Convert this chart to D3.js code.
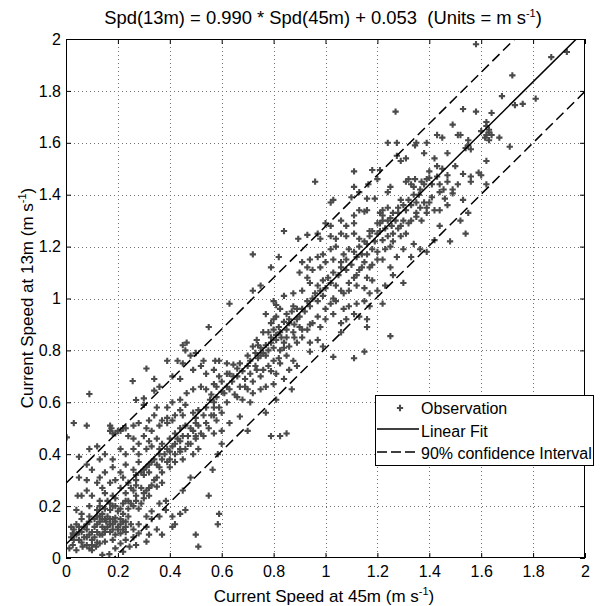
<!DOCTYPE html>
<html><head><meta charset="utf-8">
<script src="https://cdn.jsdelivr.net/npm/d3@7"></script>
<style>body{margin:0;background:#fff}svg{display:block}text{font-family:"Liberation Sans",Arial,sans-serif;white-space:pre}</style>
</head><body>
<script>
// ---- data (values in m/s) ----
const xTicks = [0,0.2,0.4,0.6,0.8,1,1.2,1.4,1.6,1.8,2];
const yTicks = [0,0.2,0.4,0.6,0.8,1,1.2,1.4,1.6,1.8,2];
const fitSlope = 0.990, fitIntercept = 0.053, ciHalfWidth = 0.235;

const obsLow = [[0.30,0.59],[0.35,0.58],[0.39,0.58],[0.41,0.60],[0.44,0.57],[0.46,0.59],[0.49,0.56],[0.51,0.57],[0.54,0.58],[0.57,0.60],[0.59,0.58],[0.60,0.56],[0.57,0.55],[0.53,0.55],[0.50,0.54],[0.45,0.55],[0.42,0.55],[0.39,0.54],[0.37,0.53],[0.34,0.55],[0.32,0.53],
[0.03,0.52],[0.08,0.51],[0.17,0.49],[0.18,0.48],[0.19,0.48],[0.20,0.49],[0.21,0.49],[0.22,0.50],[0.23,0.50],[0.17,0.51],[0.175,0.50],
[0.26,0.51],[0.28,0.52],[0.31,0.50],[0.33,0.49],[0.36,0.51],[0.39,0.52],[0.41,0.53],[0.44,0.50],[0.46,0.51],[0.49,0.49],[0.51,0.51],[0.54,0.52],[0.58,0.53],[0.60,0.49],[0.57,0.48],[0.53,0.47],[0.50,0.46],[0.48,0.44],[0.45,0.47],[0.42,0.48],[0.40,0.46],[0.37,0.44],[0.35,0.46],[0.32,0.45],[0.30,0.47],[0.28,0.44],[0.26,0.46],[0.24,0.47],
[0.12,0.43],[0.09,0.42],[0.05,0.39],[0.08,0.36],[0.13,0.38],[0.15,0.40],[0.18,0.38],[0.21,0.42],[0.23,0.40],[0.26,0.42],[0.28,0.40],[0.31,0.42],[0.33,0.43],[0.36,0.40],[0.39,0.42],[0.41,0.43],[0.44,0.41],[0.46,0.42],[0.49,0.40],[0.51,0.42],[0.45,0.38],[0.42,0.37],[0.39,0.37],[0.36,0.35],[0.33,0.37],[0.31,0.35],[0.28,0.37],[0.26,0.34],[0.23,0.36],[0.21,0.33],[0.18,0.35],[0.15,0.33],[0.13,0.31],[0.10,0.34],[0.08,0.30],[0.05,0.31],[0.08,0.26],[0.12,0.29],[0.14,0.27],[0.17,0.29],[0.19,0.30],[0.22,0.31],[0.24,0.29],[0.27,0.30],[0.30,0.32],[0.32,0.33],[0.35,0.31],[0.37,0.33],[0.40,0.35],
[0.26,0.26],[0.23,0.25],[0.21,0.27],[0.18,0.24],[0.15,0.25],[0.13,0.22],[0.10,0.24],[0.045,0.24],[0.06,0.24],[0.04,0.185],[0.06,0.17],[0.09,0.20],[0.12,0.185],[0.14,0.17],[0.17,0.185],[0.19,0.20],[0.22,0.21],[0.24,0.22],[0.27,0.24],[0.30,0.25],[0.32,0.27],[0.35,0.275],[0.37,0.29],[0.45,0.26],[0.48,0.31],[0.565,0.34],[0.55,0.24],[0.60,0.44],[0.585,0.40],
[0.13,0.16],[0.15,0.15],[0.155,0.14],[0.17,0.15],[0.18,0.13],[0.19,0.155],[0.21,0.13],[0.22,0.14],[0.23,0.12],[0.14,0.12],[0.12,0.13],[0.09,0.14],[0.06,0.15],[0.04,0.13],[0.02,0.12],[0.026,0.095],[0.05,0.10],[0.08,0.11],[0.10,0.10],[0.13,0.09],[0.15,0.10],[0.18,0.11],[0.21,0.095],[0.23,0.10],[0.26,0.11],[0.28,0.13],[0.31,0.16],[0.33,0.18],[0.36,0.21],[0.385,0.22],[0.41,0.16],[0.44,0.17],[0.46,0.185],[0.385,0.185],[0.36,0.16],[0.33,0.15],[0.31,0.12],[0.28,0.095],[0.26,0.08],[0.23,0.07],[0.21,0.056],[0.18,0.07],[0.15,0.063],[0.13,0.056],[0.10,0.07],[0.08,0.08],[0.05,0.07],[0.026,0.05],[0.013,0.037],[0.04,0.03],[0.064,0.044],[0.09,0.037],[0.116,0.044],[0.14,0.012],[0.167,0.015],[0.19,0.037],[0.22,0.024],[0.245,0.044],[0.27,0.05],[0.31,0.063],[0.37,0.09],[0.41,0.12],[0.50,0.09],[0.51,0.044],[0.585,0.13],[0.59,0.17],[0.42,0.13],[0.35,0.11],[0.32,0.09]];

const obsDense = [[0.11,0.15],[0.12,0.16],[0.13,0.14],[0.14,0.15],[0.16,0.16],[0.17,0.13],[0.18,0.15],[0.19,0.14],[0.20,0.12],[0.21,0.15],[0.22,0.11],[0.23,0.14],[0.24,0.16],[0.25,0.13],[0.15,0.11],[0.16,0.12],[0.17,0.10],[0.19,0.09],[0.20,0.11],[0.12,0.10],[0.11,0.12],[0.14,0.09],[0.13,0.20],[0.15,0.19],[0.16,0.22],[0.18,0.20],[0.20,0.18],[0.21,0.19],[0.22,0.17],[0.24,0.19],[0.25,0.21],[0.26,0.20],[0.27,0.22],[0.28,0.19],[0.29,0.21],[0.30,0.23],[0.31,0.26],[0.32,0.24],[0.33,0.28],[0.34,0.30],[0.29,0.27],[0.27,0.28],[0.25,0.27],[0.23,0.22],[0.19,0.23],[0.17,0.21],[0.09,0.16],[0.08,0.13],[0.07,0.12],[0.06,0.10],[0.05,0.12],[0.04,0.09],[0.03,0.07],[0.06,0.06],[0.08,0.05],[0.10,0.05],[0.11,0.08],[0.09,0.09],[0.07,0.08],[0.03,0.11],[0.02,0.08],[0.10,0.03],[0.12,0.06],[0.35,0.36],[0.37,0.38],[0.38,0.40],[0.40,0.41],[0.42,0.44],[0.43,0.46],[0.44,0.45],[0.47,0.47],[0.48,0.50],[0.50,0.52],[0.36,0.42],[0.34,0.38],[0.32,0.36],[0.30,0.34],[0.29,0.33],[0.27,0.32],[0.40,0.38],[0.42,0.40],[0.44,0.42],[0.47,0.44],[0.50,0.47],[0.52,0.48],[0.55,0.50],[0.56,0.55]];

const obsMid = [[0.80,0.99],[0.81,0.975],[0.84,1.01],[0.876,1.02],[0.825,0.96],[0.85,0.94],[0.876,0.97],[0.89,0.92],[0.86,0.905],[0.84,0.91],[0.81,0.93],[0.77,0.94],[0.79,0.905],[0.80,0.88],[0.825,0.87],[0.85,0.85],[0.876,0.87],[0.89,0.83],[0.86,0.815],[0.84,0.83],[0.81,0.84],[0.79,0.85],[0.76,0.87],[0.735,0.84],[0.72,0.815],[0.75,0.81],[0.77,0.82],[0.80,0.81],[0.825,0.80],[0.85,0.78],[0.876,0.76],[0.89,0.74],[0.86,0.725],[0.825,0.75],[0.80,0.76],[0.77,0.78],[0.75,0.78],[0.73,0.79],[0.71,0.76],[0.70,0.74],[0.67,0.75],[0.645,0.745],[0.62,0.75],[0.59,0.76],[0.575,0.76],[0.735,0.725],[0.76,0.725],[0.79,0.72],[0.81,0.71],[0.84,0.69],[0.87,0.65],[0.80,0.67],[0.77,0.66],[0.75,0.65],[0.72,0.635],[0.70,0.65],[0.67,0.66],[0.645,0.70],[0.62,0.71],[0.59,0.70],[0.57,0.67],[0.54,0.65],[0.52,0.66],[0.49,0.65],[0.465,0.635],[0.44,0.61],[0.63,0.65],[0.66,0.62],[0.68,0.61],[0.71,0.60],[0.63,0.52],[0.67,0.545],[0.70,0.49],[0.77,0.56],[0.81,0.61],[0.825,0.47],[0.85,0.48],[0.79,0.47],[0.63,0.98],[0.55,0.89],[0.465,0.83],[0.45,0.82],[0.46,0.80],[0.39,0.76],[0.43,0.76],[0.31,0.73],[0.34,0.69],[0.36,0.66],[0.34,0.645],[0.30,0.615],[0.41,0.70],[0.44,0.69],[0.49,0.725],[0.52,0.74],[0.54,0.71],[0.57,0.725],[0.45,0.75],[0.48,0.78],[0.50,0.79],[0.53,0.76],[0.58,0.62],[0.61,0.635],[0.555,0.61],[0.257,0.682],[0.09,0.632],[0.27,0.609],[0.003,0.465]];

const obsUpper = [[1.02,1.37],[1.13,1.34],[1.15,1.335],[1.16,1.34],[1.11,1.32],[1.11,1.29],[1.08,1.28],[1.06,1.30],[1.02,1.28],[1.00,1.29],[1.20,1.29],[1.18,1.26],[1.20,1.25],[1.17,1.24],[1.16,1.21],[1.13,1.23],[1.11,1.25],[1.08,1.24],[1.06,1.25],[1.04,1.23],[1.02,1.24],[0.98,1.23],[0.97,1.25],[0.93,1.245],[0.895,1.23],[0.84,1.26],[0.72,1.17],[1.16,1.17],[1.18,1.19],[1.20,1.15],[1.17,1.12],[1.15,1.14],[1.12,1.16],[1.09,1.19],[1.07,1.17],[1.04,1.20],[1.02,1.19],[0.99,1.17],[0.97,1.16],[0.94,1.15],[0.93,1.12],[0.91,1.14],[0.90,1.10],[0.93,1.08],[0.95,1.11],[0.98,1.12],[1.00,1.14],[1.03,1.15],[1.06,1.12],[1.08,1.11],[1.11,1.08],[1.13,1.11],[1.16,1.08],[1.18,1.07],[1.20,1.03],[1.17,1.02],[1.15,1.04],[1.12,1.05],[1.09,1.03],[1.07,1.02],[1.04,1.05],[1.02,1.06],[0.99,1.07],[0.97,1.05],[0.94,1.06],[0.91,1.03],[0.72,1.03],[0.75,1.05],[0.79,1.12],[0.82,1.16],[0.91,0.96],[0.94,0.97],[0.97,0.99],[0.99,1.01],[1.02,0.98],[1.04,0.99],[1.07,0.96],[1.09,0.97],[1.12,0.98],[1.15,0.99],[1.17,0.97],[1.16,0.92],[1.16,0.89],[1.13,0.93],[1.11,0.94],[1.08,0.92],[1.06,0.905],[1.03,0.94],[1.00,0.92],[0.98,0.89],[0.95,0.905],[0.93,0.88],[0.90,0.89],[0.91,0.85],[0.94,0.83],[0.97,0.84],[0.99,0.815],[0.94,0.795],[1.03,0.775],[1.11,0.77],[1.15,0.795],[1.06,0.87]];

const obsTop = [[1.27,1.72],[1.49,1.67],[1.43,1.63],[1.51,1.63],[1.45,1.62],[1.24,1.60],[1.275,1.60],[1.35,1.60],[1.345,1.59],[1.39,1.60],[1.38,1.56],[1.275,1.55],[1.31,1.54],[1.29,1.53],[1.42,1.54],[1.47,1.56],[1.50,1.51],[1.43,1.51],[1.40,1.49],[1.47,1.475],[1.47,1.45],[1.51,1.44],[1.49,1.42],[1.455,1.42],[1.44,1.44],[1.39,1.46],[1.38,1.44],[1.40,1.465],[1.365,1.42],[1.34,1.43],[1.33,1.44],[1.31,1.45],[1.32,1.46],[1.345,1.46],[1.21,1.495],[1.18,1.495],[1.11,1.49],[0.96,1.45],[1.20,1.46],[1.165,1.44],[1.24,1.41],[1.25,1.43],[1.19,1.385],[1.16,1.385],[1.13,1.41],[1.11,1.43],[1.10,1.39],[1.03,1.38],[1.21,1.33],[1.22,1.32],[1.22,1.34],[1.24,1.35],[1.26,1.33],[1.28,1.35],[1.29,1.38],[1.31,1.34],[1.33,1.36],[1.35,1.37],[1.365,1.35],[1.39,1.35],[1.40,1.37],[1.42,1.34],[1.44,1.34],[1.47,1.36],[1.46,1.385],[1.49,1.405],[1.30,1.30],[1.33,1.30],[1.35,1.315],[1.37,1.30],[1.39,1.33],[1.29,1.28],[1.255,1.28],[1.24,1.30],[1.22,1.30],[1.21,1.29],[1.24,1.24],[1.22,1.225],[1.26,1.25],[1.29,1.24],[1.31,1.25],[1.34,1.21],[1.48,1.22],[1.44,1.28],[1.42,1.225],[1.25,1.20],[1.22,1.15],[1.25,1.12],[1.275,1.16],[1.30,1.19],[1.33,1.16],[1.365,1.19],[1.39,1.18],
[1.58,1.98],[1.72,1.86],[1.68,1.78],[1.73,1.745],[1.76,1.75],[1.81,1.77],[1.53,1.73],[1.58,1.72],[1.64,1.715],[1.62,1.68],[1.62,1.665],[1.63,1.65],[1.63,1.64],[1.62,1.63],[1.615,1.62],[1.64,1.63],[1.63,1.61],[1.67,1.62],[1.60,1.645],[1.52,1.63],[1.55,1.61],[1.55,1.59],[1.54,1.58],[1.56,1.575],[1.71,1.585],[1.62,1.53],[1.53,1.48],[1.56,1.47],[1.56,1.45],[1.59,1.485],[1.60,1.475],[1.62,1.44],
[1.87,1.93],[1.93,1.95],[1.53,1.38],[1.55,1.33],[1.52,1.30],[1.54,1.25],[1.23,1.05],[1.26,1.09],[1.22,0.98],[1.30,1.06],[1.25,0.855]];

const obsBand = [[0.56,0.63],[0.58,0.66],[0.60,0.68],[0.62,0.66],[0.64,0.68],[0.66,0.70],[0.68,0.72],[0.69,0.69],[0.71,0.71],[0.73,0.74],[0.74,0.77],[0.76,0.79],[0.78,0.80],[0.79,0.83],[0.81,0.86],[0.82,0.89],[0.83,0.85],[0.85,0.88],[0.86,0.92],[0.87,0.95],[0.88,0.90],[0.89,0.96],[0.90,0.93],[0.92,0.95],[0.93,0.99],[0.95,1.00],[0.96,1.02],[0.98,1.03],[1.00,1.04],[1.01,1.08],[1.03,1.10],[1.05,1.09],[1.06,1.14],[1.08,1.15],[1.10,1.13],[1.11,1.18],[1.13,1.20],[1.14,1.17],[1.15,1.22],[1.17,1.26],[1.19,1.22],[1.21,1.26],[1.23,1.27],[1.25,1.31],[1.27,1.30],[1.28,1.33],[1.30,1.36],[1.32,1.38],[1.34,1.40],[1.36,1.40],[1.37,1.45],[1.41,1.44],[1.43,1.47],[1.45,1.50],[0.78,0.87],[0.80,0.92],[0.74,0.82],[0.70,0.78],[0.66,0.73],[0.63,0.71],[0.60,0.64],[0.57,0.58],[0.62,0.60],[0.65,0.63],[0.69,0.66],[0.72,0.68],[0.75,0.70],[0.78,0.74],[0.82,0.77],[0.84,0.81],[0.88,0.85],[0.91,0.88],[0.94,0.90],[0.97,0.93],[1.00,0.96],[1.03,1.00],[1.06,1.03],[1.09,1.06],[1.12,1.09],[1.14,1.12],[1.18,1.13],[1.20,1.18],[1.23,1.19],[1.26,1.22],[1.28,1.27],[1.32,1.29],[1.35,1.33],[1.38,1.37],[1.41,1.39],[1.44,1.41]];

const observations = [].concat(obsLow, obsDense, obsMid, obsUpper, obsTop, obsBand);

// ---- layout ----
const W = 608, H = 606;
const L = 66, T = 39, R = 585, B = 558;
const x = d3.scaleLinear().domain([0,2]).range([L,R]);
const y = d3.scaleLinear().domain([0,2]).range([B,T]);
const fmt = d => String(+d.toFixed(1));

const svg = d3.select("body").append("svg").attr("width",W).attr("height",H);
svg.append("rect").attr("width",W).attr("height",H).attr("fill","#fff");
svg.append("defs").append("clipPath").attr("id","clip")
  .append("rect").attr("x",L).attr("y",T).attr("width",R-L).attr("height",B-T);

// grid
const grid = svg.append("g").attr("stroke","#000").attr("stroke-width",1).attr("stroke-dasharray","1,3").attr("opacity",0.55);
grid.selectAll(".gx").data(xTicks.slice(1,-1)).join("line")
  .attr("x1",d=>Math.round(x(d))+0.5).attr("x2",d=>Math.round(x(d))+0.5).attr("y1",T).attr("y2",B);
grid.selectAll(".gy").data(yTicks.slice(1,-1)).join("line")
  .attr("y1",d=>Math.round(y(d))+0.5).attr("y2",d=>Math.round(y(d))+0.5).attr("x1",L).attr("x2",R);

// points
const sym = d3.symbol().type(d3.symbolCross).size(22);
svg.append("g").attr("clip-path","url(#clip)").selectAll("path").data(observations).join("path")
  .attr("d",sym).attr("fill","#4a4a4a")
  .attr("transform",d=>`translate(${x(d[0])},${y(d[1])})`);

// fit and confidence lines
const lineGen = d3.line().x(d=>x(d[0])).y(d=>y(d[1]));
const xs = [0,2];
const lines = svg.append("g").attr("clip-path","url(#clip)").attr("fill","none").attr("stroke","#000");
lines.append("path").attr("d",lineGen(xs.map(v=>[v,fitSlope*v+fitIntercept]))).attr("stroke-width",1.5);
[ciHalfWidth,-ciHalfWidth].forEach(o=>{
  lines.append("path").attr("d",lineGen(xs.map(v=>[v,fitSlope*v+fitIntercept+o])))
    .attr("stroke-width",1.5).attr("stroke-dasharray","10,5");
});

// axes
const fs = 16;
const ax = svg.append("g").attr("transform",`translate(0,${B})`)
  .call(d3.axisBottom(x).tickValues(xTicks).tickSize(-5).tickPadding(8).tickFormat(fmt));
const ay = svg.append("g").attr("transform",`translate(${L},0)`)
  .call(d3.axisLeft(y).tickValues(yTicks).tickSize(-5).tickPadding(5).tickFormat(fmt));
const at = svg.append("g").attr("transform",`translate(0,${T})`)
  .call(d3.axisTop(x).tickValues(xTicks).tickSize(-5).tickFormat(""));
const ar = svg.append("g").attr("transform",`translate(${R},0)`)
  .call(d3.axisRight(y).tickValues(yTicks).tickSize(-5).tickFormat(""));
[ax,ay,at,ar].forEach(g=>{
  g.select(".domain").remove();
  g.selectAll("line").attr("stroke","#000");
  g.selectAll("text").attr("font-size",fs).attr("fill","#000").attr("font-family","Liberation Sans, Arial, sans-serif");
});
svg.append("rect").attr("x",L+0.5).attr("y",T+0.5).attr("width",R-L-1).attr("height",B-T-1)
  .attr("fill","none").attr("stroke","#000").attr("stroke-width",1);

// labels with superscript
function supLabel(sel, main, tail){
  sel.append("tspan").text(main);
  sel.append("tspan").text("-1").attr("font-size",11).attr("dy",-7);
  sel.append("tspan").text(tail).attr("dy",7);
  return sel;
}
supLabel(svg.append("text").attr("x",323).attr("y",24).attr("text-anchor","middle").attr("font-size",18.4),
  "Spd(13m) = 0.990 * Spd(45m) + 0.053  (Units = m s", ")");
supLabel(svg.append("text").attr("x",324).attr("y",602).attr("text-anchor","middle").attr("font-size",17),
  "Current Speed at 45m (m s", ")");
supLabel(svg.append("text").attr("transform","translate(33,298) rotate(-90)").attr("text-anchor","middle").attr("font-size",17),
  "Current Speed at 13m (m s", ")");

// legend
const lg = svg.append("g");
lg.append("rect").attr("x",375.5).attr("y",395.5).attr("width",218).attr("height",70)
  .attr("fill","#fff").attr("stroke","#000");
lg.append("path").attr("d",sym).attr("fill","#4a4a4a").attr("transform","translate(400,408)");
lg.append("line").attr("x1",377).attr("x2",419).attr("y1",429).attr("y2",429).attr("stroke","#000").attr("stroke-width",1.5);
lg.append("line").attr("x1",377).attr("x2",417).attr("y1",452).attr("y2",452).attr("stroke","#000").attr("stroke-width",1.5).attr("stroke-dasharray","10,4");
const legendLabels = ["Observation","Linear Fit","90% confidence Interval"];
lg.selectAll("text.l").data(legendLabels).join("text")
  .attr("x",421).attr("y",(d,i)=>414+i*22.5).attr("font-size",16).attr("fill","#000").text(d=>d);
</script>
</body></html>
